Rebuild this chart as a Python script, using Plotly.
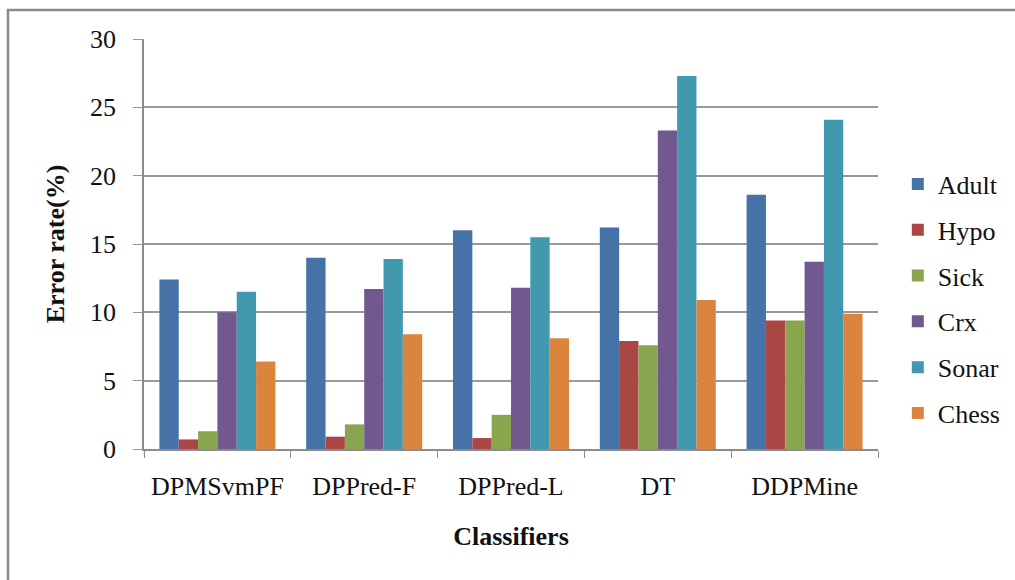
import plotly.graph_objects as go

classifiers = ["DPMSvmPF", "DPPred-F", "DPPred-L", "DT", "DDPMine"]

adult = [12.4, 14.0, 16.0, 16.2, 18.6]
hypo = [0.7, 0.9, 0.8, 7.9, 9.4]
sick = [1.3, 1.8, 2.5, 7.6, 9.4]
crx = [10.0, 11.7, 11.8, 23.3, 13.7]
sonar = [11.5, 13.9, 15.5, 27.3, 24.1]
chess = [6.4, 8.4, 8.1, 10.9, 9.9]

series = [
    ("Adult", adult, "#4572A7"),
    ("Hypo", hypo, "#AA4643"),
    ("Sick", sick, "#89A54E"),
    ("Crx", crx, "#71588F"),
    ("Sonar", sonar, "#4198AF"),
    ("Chess", chess, "#DB843D"),
]

FONT = "Liberation Serif, Times New Roman, serif"
FS = 26

fig = go.Figure()
for name, vals, color in series:
    fig.add_trace(go.Bar(
        x=classifiers, y=vals, name=name, legendgroup=name,
        marker=dict(color=color, line=dict(width=0)),
    ))

fig.update_layout(
    width=1015, height=580,
    margin=dict(l=144, r=137, t=39, b=131, autoexpand=False),
    paper_bgcolor="white", plot_bgcolor="white",
    font=dict(family=FONT, size=FS, color="#111111"),
    barmode="group", bargap=0.21, bargroupgap=0,
    showlegend=True,
    legend=dict(
        x=1.027, xanchor="left", y=0.367, yanchor="middle",
        font=dict(family=FONT, size=FS, color="#111111"),
        traceorder="grouped", tracegroupgap=9,
        bgcolor="rgba(0,0,0,0)",
    ),
    xaxis=dict(
        showline=True, linecolor="#8c8c8c", linewidth=1.5,
        ticks="outside", tickson="boundaries", ticklen=7, tickcolor="#8c8c8c",
        ticklabelstandoff=13,
        title=dict(text="<b>Classifiers</b>", standoff=27,
                   font=dict(family=FONT, size=FS, color="#111111")),
    ),
    yaxis=dict(
        range=[0, 30], dtick=5,
        showline=True, linecolor="#8c8c8c", linewidth=1.5,
        showgrid=True, gridcolor="#9a9a9a", gridwidth=1.5,
        zeroline=False,
        ticks="outside", ticklen=9, tickcolor="#9a9a9a",
        ticklabelstandoff=12,
        title=dict(text="<b>Error rate(%)</b>", standoff=18,
                   font=dict(family=FONT, size=FS, color="#111111")),
    ),
    shapes=[
        dict(type="rect", xref="paper", yref="paper",
             x0=-0.1853, x1=1.3, y0=-0.5, y1=1.0707,
             line=dict(color="#8a8a8a", width=2.5), fillcolor="rgba(0,0,0,0)",
             layer="below"),
    ],
)

fig.write_html("out.html")
